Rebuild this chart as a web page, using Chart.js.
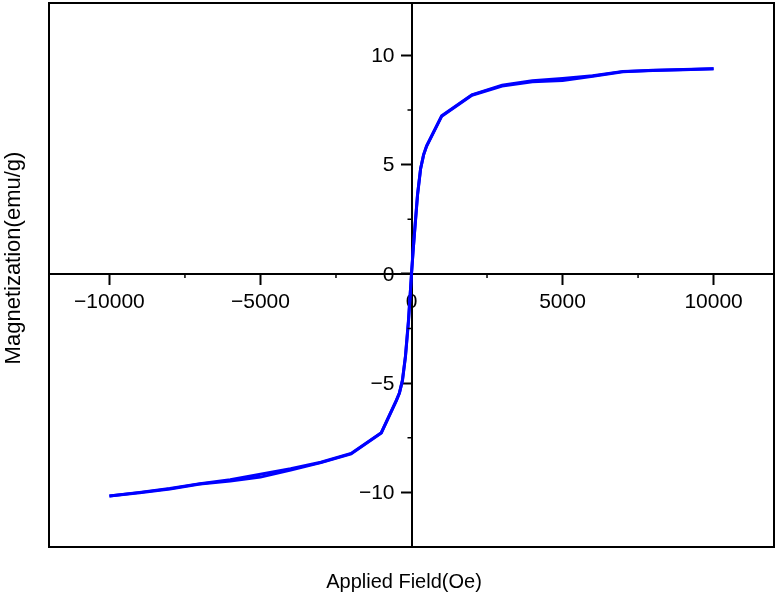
<!DOCTYPE html>
<html>
<head>
<meta charset="utf-8">
<script src="https://cdn.jsdelivr.net/npm/chart.js"></script>
<style>
  html, body { margin: 0; padding: 0; background: #fff; }
  #wrap { width: 776px; height: 597px; }
</style>
</head>
<body>
<div id="wrap"><canvas id="chart" width="776" height="597"></canvas></div>
<script>
// Applied field (Oe), descending branch then ascending branch
const fieldDown = [10000, 9000, 8000, 7000, 6000, 5000, 4000, 3000, 2000, 1000, 500, 400, 300, 200, 100, 50, 0,
  -50, -100, -200, -300, -400, -500, -1000, -2000, -3000, -4000, -5000, -6000, -7000, -8000, -9000, -10000];
const magDown = [9.39, 9.35, 9.31, 9.27, 9.07, 8.95, 8.84, 8.64, 8.2, 7.24, 5.86, 5.45, 4.8, 3.65, 1.9, 1.0, 0.05,
  -1.1, -2.2, -3.8, -4.9, -5.45, -5.78, -7.27, -8.22, -8.62, -8.92, -9.17, -9.42, -9.6, -9.82, -10.0, -10.17];
const fieldUp = fieldDown.slice().reverse();
const magUp = [-10.17, -10.02, -9.85, -9.62, -9.48, -9.3, -8.98, -8.64, -8.24, -7.28, -5.8, -5.45, -4.85, -3.75, -2.1, -1.05, -0.05,
  1.0, 1.87, 3.6, 4.8, 5.45, 5.84, 7.22, 8.18, 8.6, 8.8, 8.85, 9.05, 9.25, 9.32, 9.36, 9.39];

const xTicks = [-10000, -5000, 0, 5000, 10000];
const yTicks = [-10, -5, 0, 5, 10];
const xMinor = [-7500, -2500, 2500, 7500];
const yMinor = [-7.5, -2.5, 2.5, 7.5];

const toPoints = (xs, ys) => xs.map((x, i) => ({ x: x, y: ys[i] }));
const fmt = v => (v < 0 ? '\u2212' + Math.abs(v) : String(v));

const FONT = 'Liberation Sans, Arial, sans-serif';

// frame, minor ticks, y tick labels and axis titles
const framePlugin = {
  id: 'frame',
  afterDraw(chart) {
    const { ctx, chartArea: a, scales } = chart;
    ctx.save();
    ctx.strokeStyle = '#000';
    ctx.lineWidth = 2;
    ctx.strokeRect(a.left, a.top, a.right - a.left, a.bottom - a.top);

    const x0 = scales.x.getPixelForValue(0);
    const y0 = scales.y.getPixelForValue(0);
    ctx.lineWidth = 1.5;
    ctx.beginPath();
    xMinor.forEach(v => {
      const px = scales.x.getPixelForValue(v);
      ctx.moveTo(px, y0);
      ctx.lineTo(px, y0 + 4);
    });
    yMinor.forEach(v => {
      const py = scales.y.getPixelForValue(v);
      ctx.moveTo(x0, py);
      ctx.lineTo(x0 - 4, py);
    });
    ctx.stroke();

    ctx.fillStyle = '#000';
    ctx.font = '21px ' + FONT;
    ctx.textAlign = 'right';
    ctx.textBaseline = 'middle';
    scales.y.ticks.forEach(t => {
      ctx.fillText(fmt(t.value), x0 - 17, scales.y.getPixelForValue(t.value) + 1);
    });

    ctx.textAlign = 'center';
    ctx.font = '20px ' + FONT;
    ctx.fillText('Applied Field(Oe)', 404, 582);
    ctx.translate(14, 258);
    ctx.rotate(-Math.PI / 2);
    ctx.font = '22px ' + FONT;
    ctx.fillText('Magnetization(emu/g)', 0, 0);
    ctx.restore();
  }
};

const tickFont = { family: FONT, size: 21 };

new Chart(document.getElementById('chart'), {
  type: 'scatter',
  data: {
    datasets: [
      {
        data: toPoints(fieldDown, magDown),
        showLine: true,
        borderColor: '#0000ff',
        borderWidth: 3,
        pointRadius: 0,
        tension: 0
      },
      {
        data: toPoints(fieldUp, magUp),
        showLine: true,
        borderColor: '#0000ff',
        borderWidth: 3,
        pointRadius: 0,
        tension: 0
      }
    ]
  },
  options: {
    responsive: false,
    animation: false,
    layout: { padding: { left: 49, right: 2, top: 3, bottom: 50 } },
    plugins: { legend: { display: false }, tooltip: { enabled: false } },
    scales: {
      x: {
        type: 'linear',
        position: { y: 0 },
        min: -12000,
        max: 12000,
        afterBuildTicks: s => { s.ticks = xTicks.map(v => ({ value: v })); },
        ticks: { color: '#000', font: tickFont, padding: 6, maxRotation: 0, autoSkip: false, callback: v => fmt(v) },
        grid: { drawOnChartArea: false, drawTicks: true, tickLength: 10, tickWidth: 2, tickColor: '#000' },
        border: { color: '#000', width: 2 }
      },
      y: {
        type: 'linear',
        position: { x: 0 },
        min: -12.5,
        max: 12.4,
        afterBuildTicks: s => { s.ticks = yTicks.map(v => ({ value: v })); },
        ticks: { display: false },
        grid: { drawOnChartArea: false, drawTicks: true, tickLength: 10, tickWidth: 2, tickColor: '#000' },
        border: { color: '#000', width: 2 }
      }
    }
  },
  plugins: [framePlugin]
});
</script>
</body>
</html>
